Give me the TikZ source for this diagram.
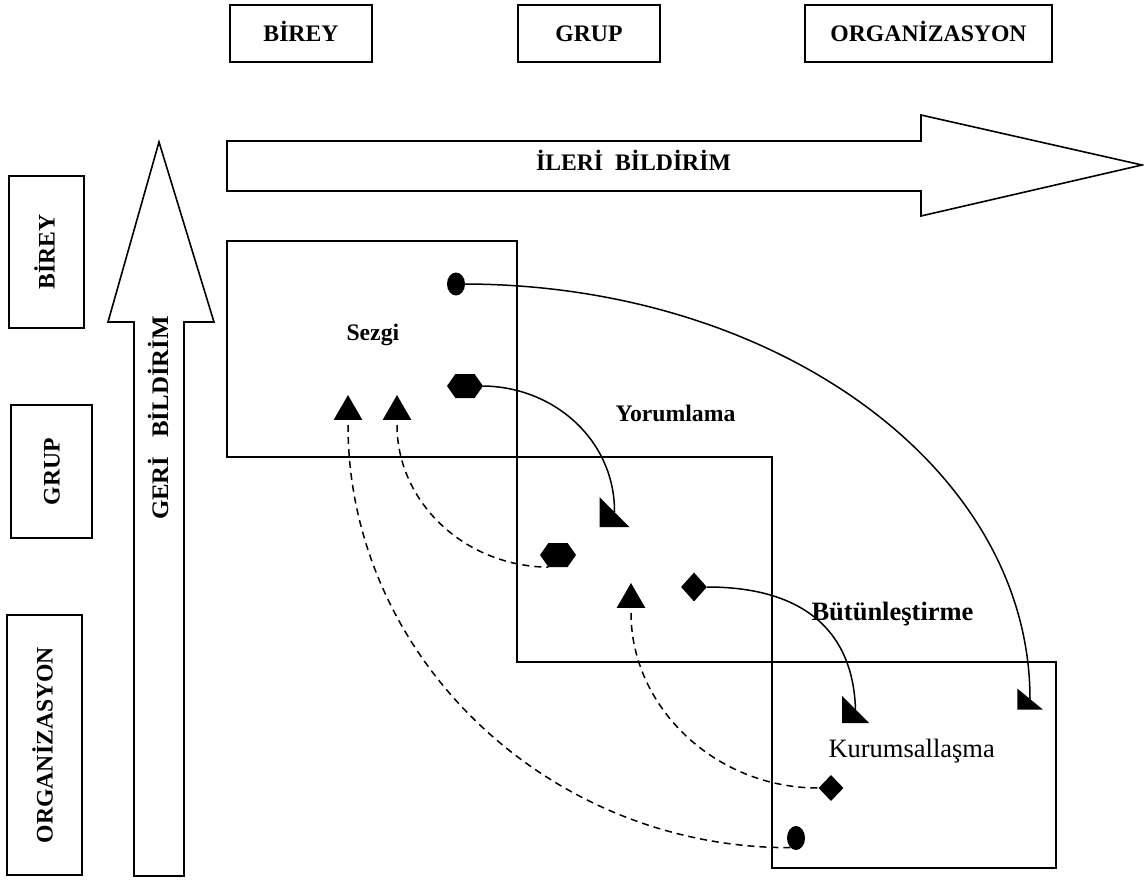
\documentclass[tikz,border=0pt]{standalone}
\usepackage{fontspec}
\setmainfont{Liberation Serif}
\usetikzlibrary{shapes.geometric,shapes.symbols}
\begin{document}
\begin{tikzpicture}[x=1pt,y=-1pt,line join=miter,
  lbl/.style={font=\bfseries\fontsize{23.7}{28}\selectfont},
  biglbl/.style={font=\bfseries\fontsize{26.5}{30}\selectfont},
  reglbl/.style={font=\fontsize{26.5}{30}\selectfont},
  box/.style={draw,line width=1.6pt,inner sep=0pt},
  boxlbl/.style={box,lbl,text height=16pt,text depth=0pt},
  arr/.style={draw,line width=1.6pt},
  conn/.style={line width=1.5pt},
  dconn/.style={line width=1.5pt,dash pattern=on 7pt off 5pt,shorten <=5pt},
  mk/.style={fill,draw=none,inner sep=0pt},
  tri/.style={mk,regular polygon,regular polygon sides=3,minimum size=33pt,anchor=south},
  hex/.style={mk,signal,signal to=east and west,signal pointer angle=110,minimum width=36pt,minimum height=24pt},
  halfhead/.pic={\fill (-15,-15) -- (-15,15) -- (15,15) -- cycle;}
]
\useasboundingbox (0,0) rectangle (1144,881);

% top boxes
\node[boxlbl,minimum width=142pt,minimum height=57pt] (tBirey) at (301,33.5) {BİREY};
\node[boxlbl,minimum width=142pt,minimum height=57pt] (tGrup) at (589,33.5) {GRUP};
\node[boxlbl,minimum width=247pt,minimum height=57pt] (tOrg) at (928.5,33.5) {ORGANİZASYON};

% left boxes
\node[boxlbl,rotate=90,minimum width=152pt,minimum height=75pt] (lBirey) at (46.5,252) {BİREY};
\node[boxlbl,rotate=90,minimum width=133pt,minimum height=81pt] (lGrup) at (51.5,471.5) {GRUP};
\node[boxlbl,rotate=90,minimum width=260pt,minimum height=75pt] (lOrg) at (44.5,745) {ORGANİZASYON};

% big arrows
\draw[arr] (227,141) -- (921,141) -- (921,115) -- (1142,165) -- (921,216) -- (921,191) -- (227,191) -- cycle;
\node[lbl,anchor=base] (ileri) at (633.5,170) {İLERİ\ \ BİLDİRİM};
\draw[arr] (134,876) -- (134,322) -- (108,322) -- (159,142) -- (214,322) -- (184,322) -- (184,876) -- cycle;
\node[lbl,rotate=90,text height=16pt,text depth=0pt] (geri) at (160,418) {\scalebox{1.05}[1]{GERİ\ \ \ BİLDİRİM}};

% process boxes
\node[box,minimum width=290pt,minimum height=216pt] (bSezgi) at (372,349) {};
\node[box,minimum width=255pt,minimum height=205pt] (bYorum) at (644.5,559.5) {};
\node[box,minimum width=284pt,minimum height=206pt] (bKurum) at (914,765) {};

\node[lbl,anchor=base west] (sezgi) at (343,340) {Sezgi};
\node[lbl,anchor=base west] (yorum) at (612,421) {Yorumlama};
\node[biglbl,anchor=base west] (butun) at (808,620) {Bütünleştirme};
\node[reglbl,anchor=base west] (kurum) at (825,757) {Kurumsallaşma};

% markers
\node[mk,ellipse,minimum width=18pt,minimum height=23pt] (e1) at (456,284) {};
\node[mk,ellipse,minimum width=18pt,minimum height=24pt] (e2) at (796,838) {};
\node[hex] (hx1) at (465,386) {};
\node[hex] (hx2) at (558,555) {};
\node[tri] (t1) at (348,420) {};
\node[tri] (t2) at (397,420) {};
\node[tri] (t3) at (631,608) {};
\node[mk,diamond,minimum width=26pt,minimum height=29pt] (d1) at (694,587) {};
\node[mk,diamond,minimum width=25pt,minimum height=26pt] (d2) at (831,788) {};

\coordinate (h1) at (614.5,512);
\coordinate (h2) at (855.5,709.5);
\coordinate (h3) at (1030,699);
\pic at (h1) {halfhead};
\pic[scale=0.9] at (h2) {halfhead};
\pic[xscale=0.85,yscale=0.7] at (h3) {halfhead};

% solid connectors
\draw[conn] (e1.east) .. controls (778,285) and (1030,469) .. (h3);
\draw[conn] (hx1.east) .. controls (556,387) and (615,442) .. (h1);
\draw[conn] (d1.east) .. controls (800,587) and (853,628) .. (h2);

% dashed connectors
\draw[dconn] (t1.south) .. controls (348,656) and (547,848) .. (e2.240);
\draw[dconn] (t2.south) .. controls (397,501) and (463,566) .. (hx2.south west);
\draw[dconn] (t3.south) .. controls (631,707) and (715,788) .. (d2.west);
\end{tikzpicture}
\end{document}
